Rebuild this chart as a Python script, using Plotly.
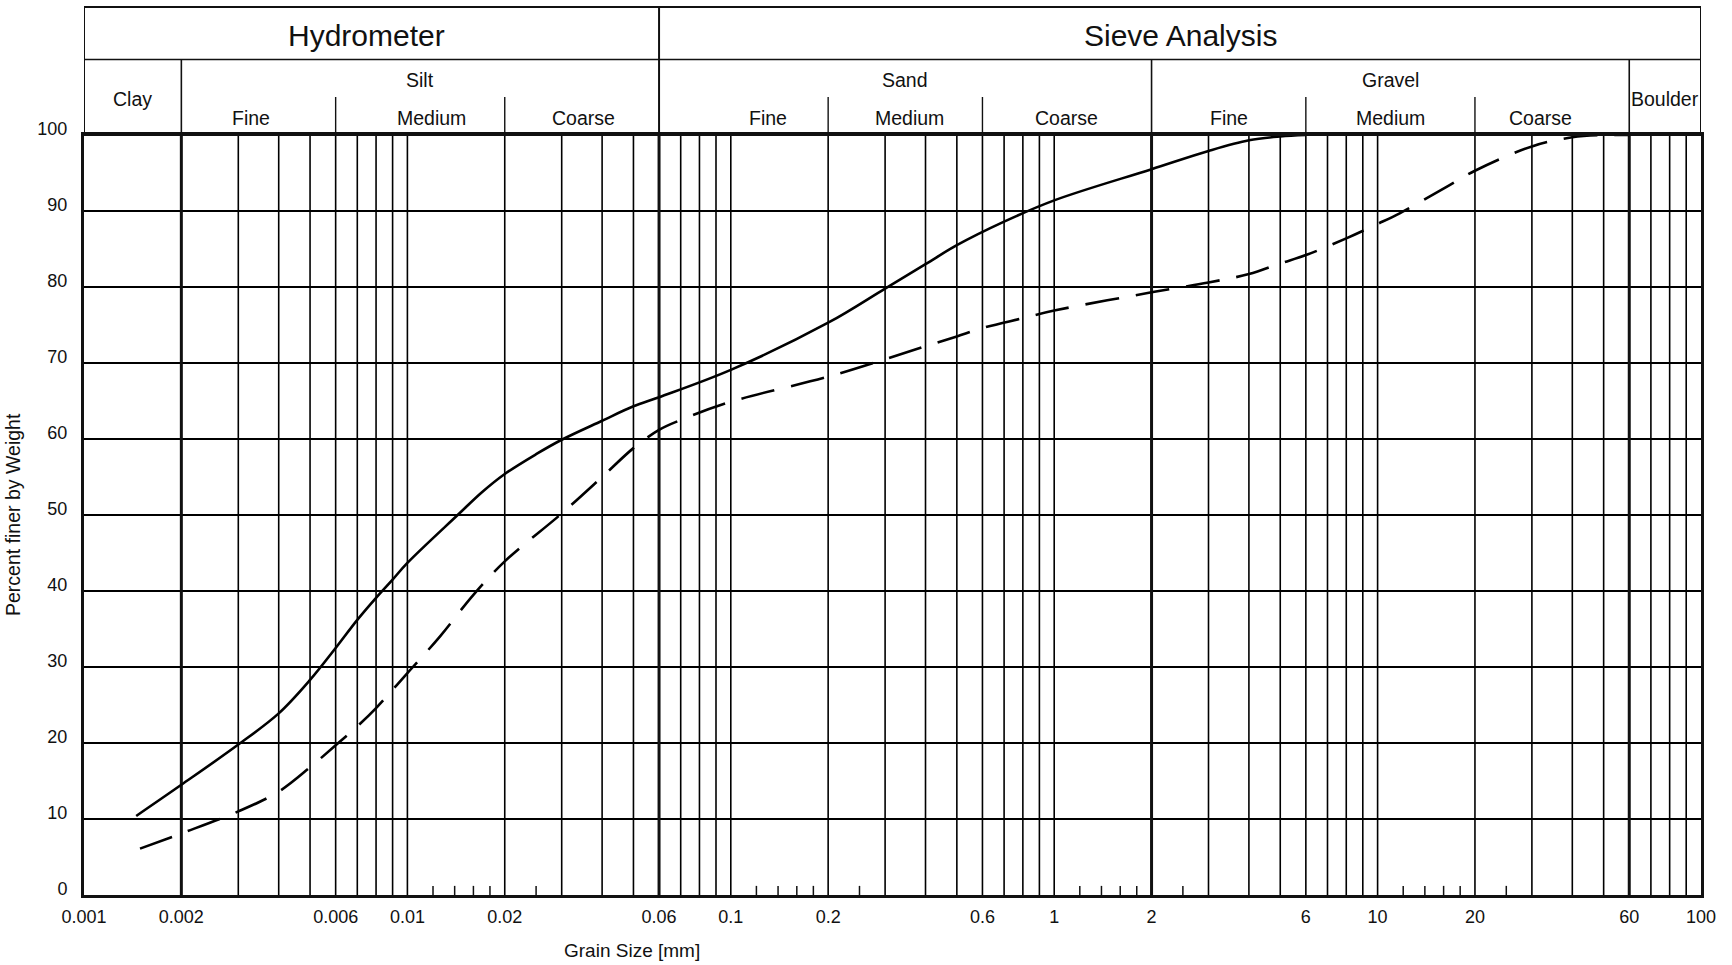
import math
import plotly.graph_objects as go

# Grain size distribution curves (grain size in mm, percent finer by weight)
size_solid = [0.00145, 0.002, 0.003, 0.004, 0.005, 0.006, 0.007, 0.008, 0.009, 0.01,
              0.0143, 0.017, 0.02, 0.025, 0.03, 0.04, 0.05, 0.06, 0.1, 0.2, 0.3, 0.4, 0.5, 0.7,
              1, 2, 3, 4, 5, 6]
pct_solid = [10.4, 14.5, 19.8, 23.9, 28.3, 32.5, 36.2, 39.1, 41.5, 43.7,
             50.0, 53.0, 55.4, 58.0, 59.9, 62.4, 64.3, 65.5, 69.1, 75.3, 79.8, 83.0, 85.5, 88.6,
             91.4, 95.5, 97.9, 99.3, 99.8, 100]

size_dashed = [0.00149, 0.002, 0.003, 0.004, 0.005, 0.006, 0.007, 0.008, 0.01, 0.0126,
               0.016, 0.02, 0.03, 0.04, 0.05, 0.06, 0.07, 0.1, 0.2, 0.3, 0.4, 0.5,
               0.6, 0.8, 1, 2, 3, 4, 5, 6, 8, 10, 11.7, 16.7, 20, 30, 40, 50, 60]
pct_dashed = [6.1, 8.1, 11.0, 13.6, 16.8, 19.7, 22.2, 24.6, 29.2, 34.0,
              39.5, 43.9, 50.2, 55.0, 58.8, 61.2, 62.5, 64.9, 68.2, 70.5, 72.2, 73.5,
              74.6, 75.9, 76.9, 79.3, 80.6, 81.7, 83.1, 84.2, 86.4, 88.3, 89.7, 93.4, 95.3, 98.5, 99.7, 100, 100]

# Axis ticks
x_tick_vals = [0.001, 0.002, 0.006, 0.01, 0.02, 0.06, 0.1, 0.2, 0.6, 1, 2, 6, 10, 20, 60, 100]
x_tick_text = ["0.001", "0.002", "0.006", "0.01", "0.02", "0.06", "0.1", "0.2", "0.6",
               "1", "2", "6", "10", "20", "60", "100"]
y_tick_vals = [0, 10, 20, 30, 40, 50, 60, 70, 80, 90, 100]

# Full-height thin grid lines
grid_sizes = [0.003, 0.004, 0.005, 0.006, 0.007, 0.008, 0.009, 0.01, 0.02, 0.03, 0.04, 0.05,
              0.07, 0.08, 0.09, 0.1, 0.2, 0.3, 0.4, 0.5, 0.6, 0.7, 0.8, 0.9, 1,
              3, 4, 5, 6, 7, 8, 9, 10, 20, 30, 40, 50, 70, 80, 90]
# Heavy lines at the soil class boundaries
boundary_sizes = [0.002, 0.06, 2, 60]
# Short sieve ticks along the bottom
short_tick_sizes = [0.012, 0.014, 0.016, 0.018, 0.025,
                    0.12, 0.14, 0.16, 0.18, 0.25,
                    1.2, 1.4, 1.6, 1.8, 2.5,
                    12, 14, 16, 18, 25]

# Header classification
group_labels = ["Hydrometer", "Sieve Analysis"]
group_bounds = [(0.001, 0.06), (0.06, 100)]
soil_labels = ["Clay", "Silt", "Sand", "Gravel", "Boulder"]
soil_bounds = [(0.001, 0.002), (0.002, 0.06), (0.06, 2), (2, 60), (60, 100)]
soil_has_subclasses = [False, True, True, True, False]
sub_labels = ["Fine", "Medium", "Coarse"] * 3
sub_bounds = [(0.002, 0.006), (0.006, 0.02), (0.02, 0.06),
              (0.06, 0.2), (0.2, 0.6), (0.6, 2),
              (2, 6), (6, 20), (20, 60)]

# Where the header captions sit along the grain-size axis (mm)
group_label_at = [0.0075, None]
sub_label_at = [0.00328, 0.0119, 0.035, 0.13, 0.358, 1.095, 3.48, 10.97, 32.0]

FONT = "Liberation Sans, Arial, Helvetica, sans-serif"
INK = "#111111"
TICK_LEN = 1.2

fig = go.Figure()


def vlines(xs, y0, y1):
    px, py = [], []
    for v in xs:
        px += [v, v, None]
        py += [y0, y1, None]
    return px, py


gx, gy = vlines(grid_sizes, 0, 100)
fig.add_trace(go.Scatter(x=gx, y=gy, mode="lines", line=dict(color="#000000", width=1.6),
                         hoverinfo="skip", showlegend=False))
bx, by = vlines(boundary_sizes, 0, 100)
fig.add_trace(go.Scatter(x=bx, y=by, mode="lines", line=dict(color=INK, width=3),
                         hoverinfo="skip", showlegend=False))
tx, ty = vlines(short_tick_sizes, 0, TICK_LEN)
fig.add_trace(go.Scatter(x=tx, y=ty, mode="lines", line=dict(color=INK, width=1.5),
                         hoverinfo="skip", showlegend=False))

fig.add_trace(go.Scatter(x=size_solid, y=pct_solid, mode="lines",
                         line=dict(color="black", width=2.6, shape="spline", smoothing=1.0),
                         showlegend=False))
fig.add_trace(go.Scatter(x=size_dashed, y=pct_dashed, mode="lines",
                         line=dict(color="black", width=2.6, shape="spline", smoothing=1.0,
                                   dash="34px,17px"),
                         showlegend=False))

# Header geometry in paper units above the plot area
PLOT_H = 760.0
Y_TOP = 1 + 128 / PLOT_H
Y_ROW = 1 + 75.5 / PLOT_H
Y_SUB = 1 + 38 / PLOT_H

shapes = []
shapes.append(dict(type="rect", xref="x", yref="paper", x0=0.001, x1=100, y0=1, y1=Y_TOP,
                   line=dict(color=INK, width=2), layer="above"))
shapes.append(dict(type="line", xref="x", yref="paper", x0=0.001, x1=100, y0=Y_ROW, y1=Y_ROW,
                   line=dict(color=INK, width=1.6), layer="above"))
for a, b in group_bounds[1:]:
    shapes.append(dict(type="line", xref="x", yref="paper", x0=a, x1=a, y0=1, y1=Y_TOP,
                       line=dict(color=INK, width=2), layer="above"))
for a, b in soil_bounds[1:]:
    if a in [g[0] for g in group_bounds]:
        continue
    shapes.append(dict(type="line", xref="x", yref="paper", x0=a, x1=a, y0=1, y1=Y_ROW,
                       line=dict(color=INK, width=1.6), layer="above"))
for a, b in sub_bounds:
    if a in [s[0] for s in soil_bounds]:
        continue
    shapes.append(dict(type="line", xref="x", yref="paper", x0=a, x1=a, y0=1, y1=Y_SUB,
                       line=dict(color=INK, width=1.4), layer="above"))

annotations = []


def log_mid(a, b):
    return (math.log10(a) + math.log10(b)) / 2


for label, (a, b), at in zip(group_labels, group_bounds, group_label_at):
    xpos = math.log10(at) if at else log_mid(a, b)
    annotations.append(dict(text=label, x=xpos, xref="x", y=1 + 100 / PLOT_H, yref="paper",
                            showarrow=False, xanchor="center", yanchor="middle",
                            font=dict(size=30, color=INK, family=FONT)))
for label, (a, b), has_sub in zip(soil_labels, soil_bounds, soil_has_subclasses):
    yy = 1 + 55 / PLOT_H if has_sub else 1 + 36.2 / PLOT_H
    annotations.append(dict(text=label, x=log_mid(a, b), xref="x", y=yy, yref="paper",
                            showarrow=False, xanchor="center", yanchor="middle",
                            font=dict(size=19.5, color=INK, family=FONT)))
for label, at in zip(sub_labels, sub_label_at):
    annotations.append(dict(text=label, x=math.log10(at), xref="x", y=1 + 17.5 / PLOT_H, yref="paper",
                            showarrow=False, xanchor="center", yanchor="middle",
                            font=dict(size=19.5, color=INK, family=FONT)))

annotations.append(dict(text="Grain Size [mm]", x=(632 - 84) / 1617, xref="paper",
                        y=-55 / PLOT_H, yref="paper", showarrow=False,
                        xanchor="center", yanchor="middle",
                        font=dict(size=19, color=INK, family=FONT)))
annotations.append(dict(text="Percent finer by Weight", x=-71 / 1617, xref="paper",
                        y=0.5, yref="paper", showarrow=False, textangle=-90,
                        xanchor="center", yanchor="middle",
                        font=dict(size=19.5, color=INK, family=FONT)))

fig.update_layout(
    width=1732, height=965,
    margin=dict(l=84, r=31, t=135, b=70),
    paper_bgcolor="white", plot_bgcolor="white",
    shapes=shapes, annotations=annotations,
    font=dict(family=FONT, color=INK, size=18),
    showlegend=False,
)
fig.update_xaxes(type="log", range=[-3, 2], tickvals=x_tick_vals, ticktext=x_tick_text,
                 showgrid=False, zeroline=False, ticks="", ticklabelstandoff=3,
                 showline=True, mirror=True, linecolor=INK, linewidth=3,
                 tickfont=dict(size=18, color=INK, family=FONT))
fig.update_yaxes(range=[0, 100], tickvals=y_tick_vals, showgrid=True, gridcolor="#000000",
                 gridwidth=1.6, zeroline=False, ticks="", ticklabelstandoff=10,
                 ticklabelshift=-6,
                 showline=True, mirror=True, linecolor=INK, linewidth=3,
                 tickfont=dict(size=18, color=INK, family=FONT))

fig.write_html("out.html")
